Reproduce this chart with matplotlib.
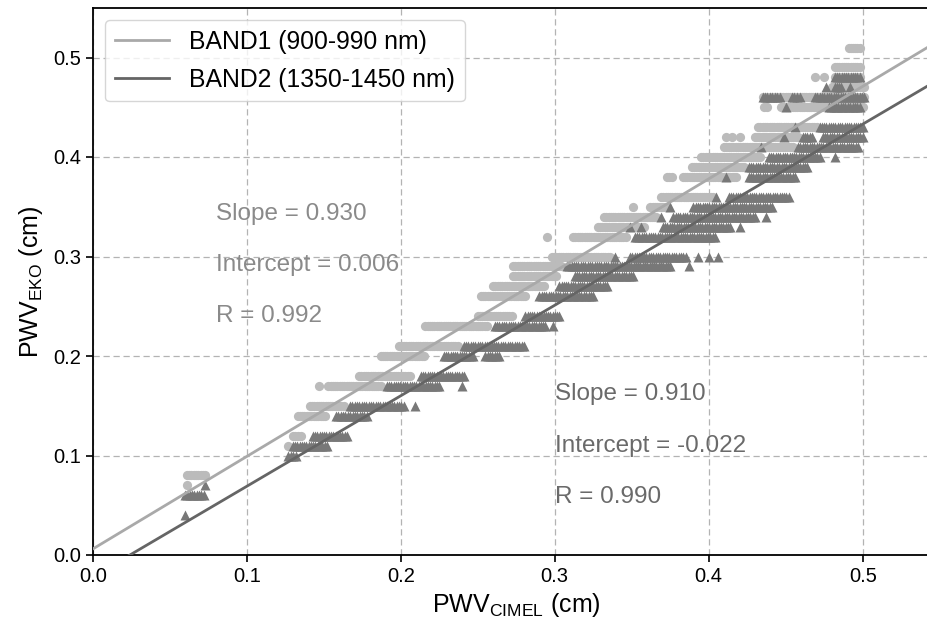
import numpy as np
import matplotlib
matplotlib.use("Agg")
import matplotlib.pyplot as plt

plt.rcParams['font.family'] = ['Liberation Sans', 'DejaVu Sans']
plt.rcParams['mathtext.fontset'] = 'custom'
plt.rcParams['mathtext.rm'] = 'Liberation Sans'
plt.rcParams['mathtext.it'] = 'Liberation Sans:italic'
plt.rcParams['mathtext.bf'] = 'Liberation Sans:bold'

# ---- data: for each PWV_EKO level, runs of PWV_CIMEL values ----
band1_levels = [0.51, 0.49, 0.48, 0.47, 0.46, 0.45, 0.43, 0.42, 0.41, 0.40, 0.39, 0.38,
                0.36, 0.35, 0.34, 0.33, 0.32, 0.30, 0.29, 0.28, 0.27, 0.26, 0.24, 0.23,
                0.21, 0.20, 0.18, 0.17, 0.15, 0.14, 0.12, 0.11, 0.08, 0.07]
band1_runs = [
    [(0.491, 0.498)],
    [(0.482, 0.498)],
    [(0.469, 0.469), (0.475, 0.475), (0.482, 0.498)],
    [(0.480, 0.501)],
    [(0.435, 0.501)],
    [(0.436, 0.438), (0.447, 0.500)],
    [(0.432, 0.470)],
    [(0.411, 0.411), (0.415, 0.415), (0.420, 0.420), (0.430, 0.458)],
    [(0.410, 0.455)],
    [(0.395, 0.433)],
    [(0.389, 0.423)],
    [(0.373, 0.376), (0.383, 0.418)],
    [(0.369, 0.403)],
    [(0.351, 0.351), (0.362, 0.373)],
    [(0.332, 0.366)],
    [(0.328, 0.358)],
    [(0.295, 0.295), (0.312, 0.346)],
    [(0.298, 0.336)],
    [(0.273, 0.304)],
    [(0.273, 0.301)],
    [(0.260, 0.293)],
    [(0.252, 0.281)],
    [(0.250, 0.272)],
    [(0.216, 0.256)],
    [(0.199, 0.237)],
    [(0.187, 0.215)],
    [(0.173, 0.206)],
    [(0.147, 0.147), (0.153, 0.187)],
    [(0.141, 0.163)],
    [(0.133, 0.151)],
    [(0.130, 0.135)],
    [(0.127, 0.127)],
    [(0.061, 0.073)],
    [(0.061, 0.061)],
]

band2_levels = [0.48, 0.47, 0.46, 0.45, 0.43, 0.42, 0.41, 0.40, 0.39, 0.38, 0.36, 0.35,
                0.34, 0.33, 0.32, 0.30, 0.29, 0.28, 0.27, 0.26, 0.24, 0.23, 0.21, 0.20,
                0.18, 0.17, 0.15, 0.14, 0.12, 0.11, 0.10, 0.07, 0.06, 0.04]
band2_runs = [
    [(0.482, 0.498)],
    [(0.476, 0.476), (0.482, 0.486), (0.492, 0.492)],
    [(0.435, 0.446), (0.454, 0.459), (0.469, 0.501)],
    [(0.4505, 0.4505), (0.478, 0.498)],
    [(0.456, 0.456), (0.472, 0.500)],
    [(0.449, 0.449), (0.461, 0.467), (0.474, 0.500)],
    [(0.434, 0.434), (0.458, 0.497)],
    [(0.439, 0.472), (0.482, 0.482)],
    [(0.426, 0.464)],
    [(0.411, 0.411), (0.426, 0.456)],
    [(0.405, 0.405), (0.413, 0.452)],
    [(0.375, 0.375), (0.390, 0.441)],
    [(0.369, 0.369), (0.377, 0.430), (0.437, 0.437)],
    [(0.349, 0.349), (0.356, 0.356), (0.370, 0.414), (0.420, 0.420)],
    [(0.352, 0.404)],
    [(0.339, 0.339), (0.349, 0.385), (0.393, 0.393), (0.400, 0.400), (0.406, 0.406)],
    [(0.308, 0.375), (0.387, 0.387)],
    [(0.313, 0.351)],
    [(0.303, 0.334)],
    [(0.290, 0.325)],
    [(0.281, 0.303)],
    [(0.261, 0.294), (0.299, 0.299)],
    [(0.241, 0.280)],
    [(0.228, 0.247), (0.255, 0.264)],
    [(0.213, 0.241)],
    [(0.191, 0.225), (0.240, 0.240)],
    [(0.167, 0.202), (0.209, 0.209)],
    [(0.158, 0.178)],
    [(0.143, 0.165)],
    [(0.130, 0.152)],
    [(0.127, 0.132)],
    [(0.073, 0.073)],
    [(0.060, 0.072)],
    [(0.060, 0.060)],
]

band1_fit = (0.930, 0.006, 0.992)   # slope, intercept, R
band2_fit = (0.910, -0.022, 0.990)
legend_labels = ["BAND1 (900-990 nm)", "BAND2 (1350-1450 nm)"]
x_ticks = [0.0, 0.1, 0.2, 0.3, 0.4, 0.5]
y_ticks = [0.0, 0.1, 0.2, 0.3, 0.4, 0.5]


def expand(levels, runs, step=0.0015):
    xs, ys = [], []
    for lv, rr in zip(levels, runs):
        for a, b in rr:
            n = max(1, int(round((b - a) / step)) + 1)
            pts = np.linspace(a, b, n)
            xs.extend(pts)
            ys.extend([lv] * n)
    return np.array(xs), np.array(ys)


c1_pts = '#bbbbbb'
c2_pts = '#787878'
c1_line = '#a9a9a9'
c2_line = '#656565'
c1_txt = '#8a8a8a'
c2_txt = '#6a6a6a'

fig = plt.figure(figsize=(9.28, 6.29), dpi=100)
W, H = 928, 629
x0_px, y0_px = 92.7, 555.0
px_per_x, px_per_y = 1540.0, 995.0
ax = fig.add_axes([x0_px / W, 1 - y0_px / H, 0.55 * px_per_x / W, 0.55 * px_per_y / H])

x1, y1 = expand(band1_levels, band1_runs)
x2, y2 = expand(band2_levels, band2_runs)
ax.scatter(x1, y1, s=44, marker='o', color=c1_pts, linewidths=0, zorder=2)
ax.scatter(x2, y2, s=52, marker='^', color=c2_pts, linewidths=0, zorder=3)

xl = np.array([0.0, 0.6])
ax.plot(xl, band1_fit[0] * xl + band1_fit[1], color=c1_line, lw=2.0, zorder=4, label=legend_labels[0])
ax.plot(xl, band2_fit[0] * xl + band2_fit[1], color=c2_line, lw=2.0, zorder=4, label=legend_labels[1])

fs = 17.5
ax.text(0.080, 0.343, f"Slope = {band1_fit[0]:.3f}", color=c1_txt, fontsize=fs, va='center', ha='left')
ax.text(0.080, 0.291, f"Intercept = {band1_fit[1]:.3f}", color=c1_txt, fontsize=fs, va='center', ha='left')
ax.text(0.080, 0.240, f"R = {band1_fit[2]:.3f}", color=c1_txt, fontsize=fs, va='center', ha='left')
ax.text(0.300, 0.162, f"Slope = {band2_fit[0]:.3f}", color=c2_txt, fontsize=fs, va='center', ha='left')
ax.text(0.300, 0.110, f"Intercept = {band2_fit[1]:.3f}", color=c2_txt, fontsize=fs, va='center', ha='left')
ax.text(0.300, 0.058, f"R = {band2_fit[2]:.3f}", color=c2_txt, fontsize=fs, va='center', ha='left')

ax.set_xlim(0, 0.55)
ax.set_ylim(0, 0.55)
ax.set_xticks(x_ticks)
ax.set_yticks(y_ticks)
ax.set_xticklabels([f"{v:.1f}" for v in x_ticks])
ax.set_yticklabels([f"{v:.1f}" for v in y_ticks])
ax.tick_params(labelsize=14.5, direction='out', length=5, width=1.2, colors='black')
ax.grid(True, linestyle=(0, (5, 3)), color='#b3b3b3', linewidth=0.9, zorder=0)
ax.set_axisbelow(True)
for sp in ax.spines.values():
    sp.set_linewidth(1.3)
    sp.set_color('black')

ax.set_xlabel(r"PWV$_{\mathrm{CIMEL}}$ (cm)", fontsize=18, labelpad=4)
ax.set_ylabel(r"PWV$_{\mathrm{EKO}}$ (cm)", fontsize=18, labelpad=6)

leg = ax.legend(loc='upper left', fontsize=17.8, handlelength=2.2, borderaxespad=0.5,
                labelspacing=0.55, framealpha=0.8, edgecolor='#cccccc')

fig.savefig("out.png", dpi=100)
